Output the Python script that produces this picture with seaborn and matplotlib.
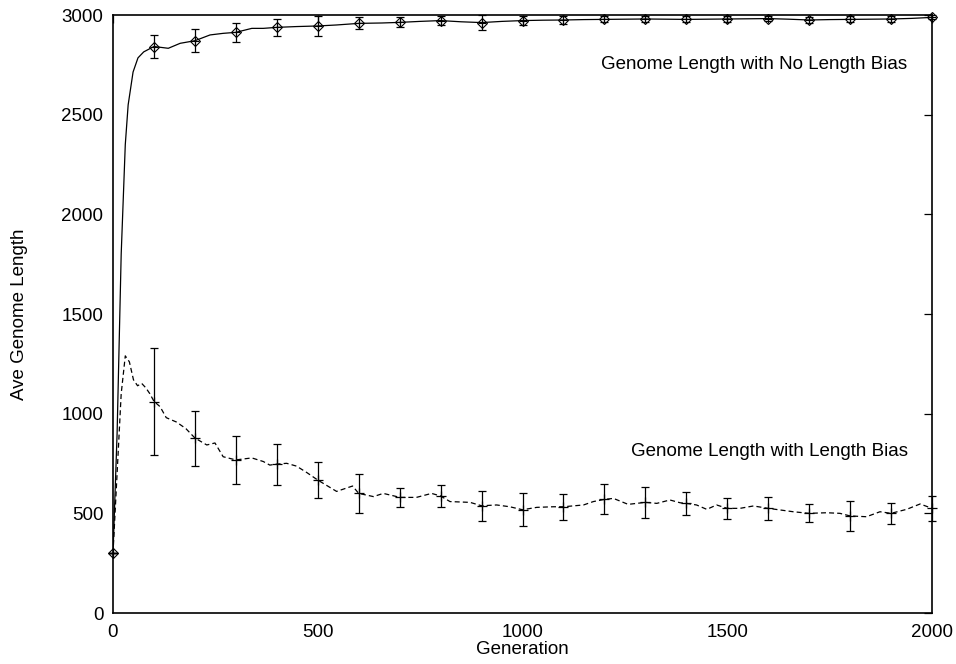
import matplotlib
matplotlib.use("Agg")
import matplotlib.pyplot as plt
import seaborn as sns
import pandas as pd

# Continuous average genome length, no length bias
free_gen = [0, 10, 20, 30, 37, 49, 61, 75, 100, 135, 164, 200, 237, 269, 300, 339,
            367, 400, 448, 500, 546, 600, 657, 700, 750, 800, 850, 900, 950, 1000,
            1050, 1100, 1150, 1200, 1250, 1300, 1350, 1400, 1450, 1500, 1550, 1600,
            1650, 1700, 1750, 1800, 1850, 1900, 1950, 2000]
free_len = [300, 900, 1800, 2350, 2549, 2714, 2785, 2815, 2842, 2833, 2858, 2871, 2900,
            2908, 2913, 2933, 2933, 2938, 2942, 2945, 2950, 2958, 2960, 2963, 2968,
            2972, 2966, 2962, 2968, 2972, 2974, 2975, 2977, 2978, 2979, 2980, 2979,
            2978, 2979, 2980, 2981, 2982, 2979, 2975, 2977, 2978, 2979, 2980, 2983, 2988]

# Continuous average genome length, with length bias
bias_gen = [0, 10, 20, 30, 40, 50, 60, 70, 80, 90, 100, 115, 130, 155, 178, 200, 229,
            249, 269, 300, 339, 367, 383, 400, 424, 448, 473, 500, 546, 585, 600, 636,
            660, 693, 700, 741, 778, 800, 823, 872, 900, 937, 969, 1000, 1035, 1075,
            1100, 1149, 1173, 1200, 1222, 1258, 1300, 1328, 1360, 1385, 1400, 1425,
            1450, 1474, 1500, 1531, 1564, 1600, 1629, 1661, 1700, 1743, 1775, 1800,
            1840, 1873, 1900, 1938, 1971, 2000]
bias_len = [300, 700, 1100, 1290, 1260, 1170, 1140, 1152, 1130, 1100, 1062, 1035, 980,
            958, 925, 878, 843, 853, 784, 768, 778, 760, 742, 747, 751, 737, 705, 667,
            610, 637, 600, 584, 600, 584, 580, 580, 600, 587, 559, 555, 538, 542, 533,
            518, 530, 533, 533, 542, 559, 570, 575, 545, 555, 550, 567, 553, 550, 542,
            520, 542, 525, 525, 537, 525, 517, 508, 500, 503, 500, 487, 483, 508, 500,
            520, 547, 525]

# Sampled means with error bars every 100 generations
sample_gen = [0, 100, 200, 300, 400, 500, 600, 700, 800, 900, 1000, 1100, 1200, 1300,
              1400, 1500, 1600, 1700, 1800, 1900, 2000]
free_mean = [300, 2842, 2871, 2913, 2938, 2945, 2958, 2963, 2972, 2962, 2972, 2975,
             2978, 2980, 2978, 2980, 2982, 2975, 2978, 2980, 2988]
free_err = [0, 58, 58, 46, 42, 52, 30, 25, 24, 37, 23, 18, 15, 17, 15, 15, 12, 17, 15,
            15, 10]
bias_mean = [300, 1060, 876, 768, 746, 667, 600, 580, 587, 538, 518, 533, 570, 555,
             550, 525, 525, 500, 487, 500, 525]
bias_err = [0, 268, 139, 120, 103, 92, 96, 47, 57, 75, 82, 66, 75, 78, 59, 51, 59, 45,
            74, 54, 62]

x_ticks = [0, 500, 1000, 1500, 2000]
y_ticks = [0, 500, 1000, 1500, 2000, 2500, 3000]

sns.set_theme(style="white")
plt.rcParams["font.family"] = ["Liberation Sans", "DejaVu Sans"]
plt.rcParams.update({"text.color": "black", "axes.labelcolor": "black",
                     "xtick.color": "black", "ytick.color": "black"})

FS = 13.5

fig = plt.figure(figsize=(9.56, 6.64), dpi=100)
ax = fig.add_axes([0.1182, 0.0768, 0.8567, 0.9006])

free_df = pd.DataFrame({"gen": free_gen, "len": free_len})
bias_df = pd.DataFrame({"gen": bias_gen, "len": bias_len})

sns.lineplot(data=free_df, x="gen", y="len", ax=ax, color="black", lw=0.9,
             estimator=None, sort=False)
sns.lineplot(data=bias_df, x="gen", y="len", ax=ax, color="black", lw=0.9,
             estimator=None, sort=False)
ax.lines[-1].set_dashes([4, 2.5])

for mean, err in ((free_mean, free_err), (bias_mean, bias_err)):
    eb = ax.errorbar(sample_gen, mean, yerr=err, fmt="none", ecolor="black",
                     elinewidth=0.9, capsize=3, capthick=0.9)
    for art in eb.lines[1] + eb.lines[2]:
        art.set_clip_on(False)

ax.plot(sample_gen, free_mean, ls="none", marker="D", markersize=5.5,
        markerfacecolor="none", markeredgecolor="black", markeredgewidth=0.8,
        clip_on=False)
ax.plot(sample_gen, free_mean, ls="none", marker="+", markersize=6,
        markeredgecolor="black", markeredgewidth=0.8, clip_on=False)
ax.plot(sample_gen, bias_mean, ls="none", marker="+", markersize=7,
        markeredgecolor="black", markeredgewidth=0.9, clip_on=False)

ax.text(1940, 2754, "Genome Length with No Length Bias", ha="right", va="center",
        fontsize=FS)
ax.text(1942, 808, "Genome Length with Length Bias", ha="right", va="center",
        fontsize=FS)

ax.set_xlim(0, 2000)
ax.set_ylim(0, 3000)
ax.set_xticks(x_ticks)
ax.set_yticks(y_ticks)
ax.set_xlabel("Generation", fontsize=FS, labelpad=0)
ax.set_ylabel("Ave Genome Length", fontsize=FS, labelpad=24)
ax.tick_params(direction="in", length=6, width=0.9, top=True, right=True,
               labelsize=FS)
ax.tick_params(axis="x", pad=8)
ax.tick_params(axis="y", pad=7)
for s in ax.spines.values():
    s.set_visible(True)
    s.set_color("black")
    s.set_linewidth(1.2)
ax.grid(False)

fig.savefig("out.png", dpi=100)
